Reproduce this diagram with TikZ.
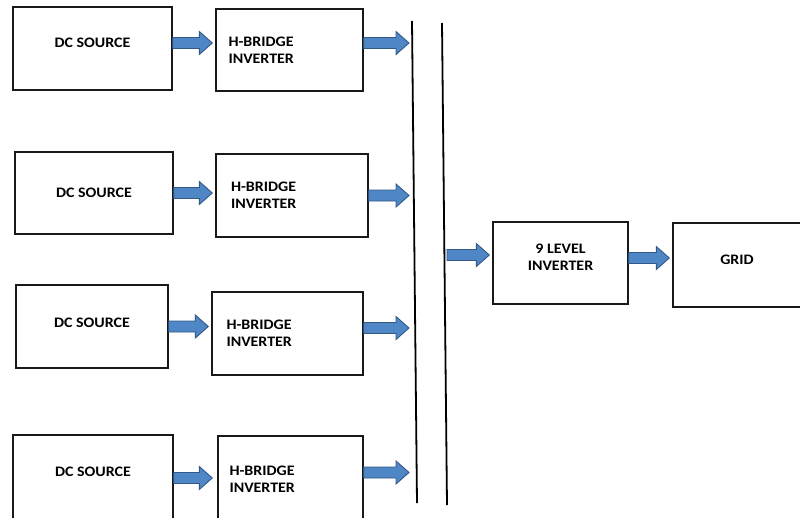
\documentclass[tikz,border=0pt]{standalone}
\usepackage{fontspec}
\newfontfamily\blockfont{Carlito}[FakeStretch=1.1]
\usepackage{xcolor}
\usepackage{tikz}
\usetikzlibrary{calc}
\definecolor{arrowfill}{RGB}{79,134,198}
\definecolor{arrowedge}{RGB}{50,88,134}

\begin{document}
\begin{tikzpicture}[x=1pt, y=-1pt,
    every node/.style={font=\blockfont\bfseries\fontsize{14.5}{17}\selectfont},
    block/.style={draw=black!90, line width=1.4pt, minimum height=83pt, inner sep=0pt},
    hbridge/.style={block, align=left, text width=122pt},
    fat/.style={draw=arrowedge, fill=arrowfill, line width=0.9pt,
      to path={let \p1=(\tikztostart), \p2=(\tikztotarget) in
        (\x1,\y1+5.5pt) -- (\x2-16pt,\y1+5.5pt) -- (\x2-16pt,\y1+11.5pt) -- (\x2-3pt,\y1)
        -- (\x2-16pt,\y1-11.5pt) -- (\x2-16pt,\y1-5.5pt) -- (\x1,\y1-5.5pt) -- cycle}},
    bus/.style={line width=1.8pt}]
  \fill[white] (0,0) rectangle (800,517);
  \useasboundingbox (0,0) rectangle (800,517);
  \clip (0,0) rectangle (800,517);

  % four cells: dc source -> h-bridge
  \node[block, minimum width=159pt, text depth=11pt] (dc1) at (92.5,48.5) {DC SOURCE};
  \node[hbridge, minimum width=147pt, minimum height=82pt] (hb1) at (289.5,50) {H-BRIDGE\\INVERTER};
  \node[block, minimum width=158pt, minimum height=82pt] (dc2) at (94,193) {DC SOURCE};
  \node[hbridge, minimum width=152pt] (hb2) at (292,195.5) {H-BRIDGE\\INVERTER};
  \node[block, minimum width=152pt, text depth=8pt] (dc3) at (92,326.5) {DC SOURCE};
  \node[hbridge, minimum width=151pt] (hb3) at (287.5,333.5) {H-BRIDGE\\INVERTER};
  \node[block, minimum width=160pt, minimum height=86pt, text depth=12pt] (dc4) at (93,478) {DC SOURCE};
  \node[hbridge, minimum width=145pt, minimum height=86pt] (hb4) at (290.5,479) {H-BRIDGE\\INVERTER};

  % output side
  \node[block, align=center, minimum width=135pt, minimum height=82pt, text depth=12pt] (nine) at (560.5,263) {9 LEVEL\\INVERTER};
  \node[block, minimum width=128pt, minimum height=84pt, text depth=10pt] (grid) at (737,265) {GRID};

  % the two bus lines
  \coordinate (busAtop) at (412,21);
  \coordinate (busAbot) at (417,503);
  \coordinate (busBtop) at (442,23);
  \coordinate (busBbot) at (447,505);
  \draw[bus] (busAtop) -- (busAbot);
  \draw[bus] (busBtop) -- (busBbot);

  \draw[fat] ([yshift=5.5pt]dc1.east) to (hb1.west);
  \draw[fat] (dc2.east) to (hb2.west);
  \draw[fat] (dc3.east) to (hb3.west);
  \draw[fat] (dc4.east) to ([xshift=-2pt]hb4.west);
  \draw[fat] ([yshift=7pt]hb1.east) to (busAtop |- hb1.east);
  \draw[fat] (hb2.east) to (busAtop |- hb2.east);
  \draw[fat] ([yshift=5.5pt]hb3.east) to (busAtop |- hb3.east);
  \draw[fat] ([yshift=6.5pt]hb4.east) to (busAtop |- hb4.east);
  \draw[fat] ([yshift=8pt]busBbot |- nine.west) to (nine.west);
  \draw[fat] ([yshift=5pt]nine.east) to (grid.west);
\end{tikzpicture}
\end{document}
